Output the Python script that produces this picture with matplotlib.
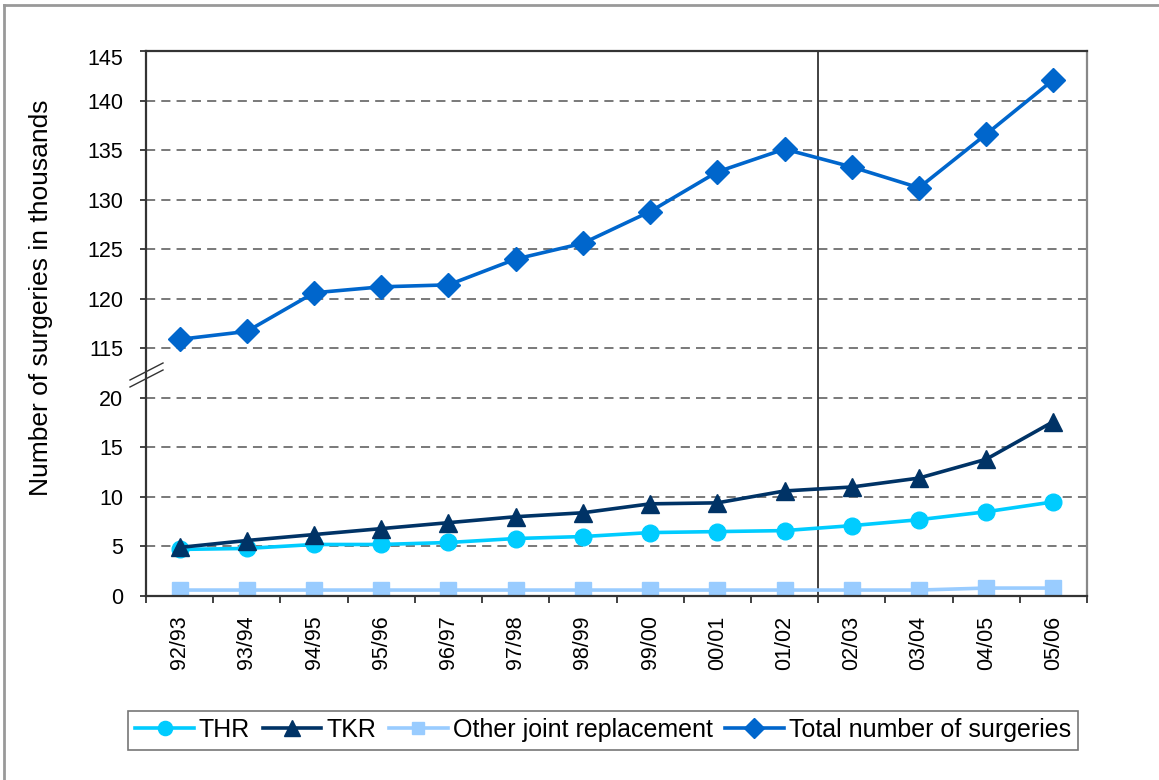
import numpy as np
import matplotlib
matplotlib.use("Agg")
import matplotlib.pyplot as plt
from matplotlib.lines import Line2D

plt.rcParams['font.family'] = ['Liberation Sans', 'DejaVu Sans']

# data (thousands of surgeries)
years = ["92/93", "93/94", "94/95", "95/96", "96/97", "97/98", "98/99",
         "99/00", "00/01", "01/02", "02/03", "03/04", "04/05", "05/06"]
thr = [4.7, 4.8, 5.2, 5.2, 5.4, 5.8, 6.0, 6.4, 6.5, 6.6, 7.1, 7.7, 8.5, 9.5]
tkr = [4.9, 5.6, 6.2, 6.8, 7.4, 8.0, 8.4, 9.3, 9.4, 10.6, 11.0, 11.9, 13.8, 17.6]
other = [0.6, 0.6, 0.6, 0.6, 0.6, 0.6, 0.6, 0.6, 0.6, 0.6, 0.6, 0.6, 0.8, 0.8]
total = [115.9, 116.7, 120.6, 121.2, 121.4, 124.0, 125.6, 128.8, 132.8, 135.1,
         133.3, 131.2, 136.6, 142.1]

# broken axis: 20 -> 115 collapsed into one tick step
BREAK = 90
low_ticks = [0, 5, 10, 15, 20]
high_ticks = [115, 120, 125, 130, 135, 140, 145]

fig = plt.figure(figsize=(11.59, 7.8), dpi=100)
ax = fig.add_axes([146/1159, 1-596/780, (1087-146)/1159, (596-51)/780])

x = np.arange(len(years))
ax.plot(x, thr, color='#00CCFF', lw=2.6, marker='o', ms=12, label='THR')
ax.plot(x, tkr, color='#003366', lw=2.6, marker='^', ms=13.5, label='TKR')
ax.plot(x, other, color='#99CCFF', lw=2.6, marker='s', ms=11, label='Other joint replacement')
ax.plot(x, np.array(total) - BREAK, color='#0066CC', lw=2.6, marker='D', ms=12,
        label='Total number of surgeries')

ax.set_xlim(-0.5, len(years) - 0.5)
ax.set_ylim(0, 145 - BREAK)

yt = low_ticks + [t - BREAK for t in high_ticks]
labels = [str(t) for t in low_ticks + high_ticks]
ax.set_yticks(yt)
# the top label sits a little below its tick, as Excel draws it
ax.set_yticklabels(labels[:-1] + [''], fontsize=15.5)
ax.annotate(labels[-1], xy=(0, yt[-1]), xycoords=('axes fraction', 'data'),
            xytext=(-16.5, -5.8), textcoords='offset points',
            ha='right', va='center', fontsize=15.5)
for t in yt[1:-1]:
    ax.axhline(t, color='#555555', lw=1.1, ls=(0, (6, 4)), zorder=0)

ax.set_xticks(x)
ax.set_xticklabels(years, rotation=90, fontsize=15.5)
ax.set_xticks(np.arange(len(years) + 1) - 0.5, minor=True)
ax.tick_params(axis='x', which='major', length=0, pad=14)
ax.tick_params(axis='x', which='minor', length=5, width=1.3, color='#333333')
ax.tick_params(axis='y', length=4.5, width=1.3, color='#333333', pad=12)

for s in ['left', 'bottom', 'top']:
    ax.spines[s].set_color('#333333')
    ax.spines[s].set_linewidth(1.6)
ax.spines['right'].set_color('#888888')
ax.spines['right'].set_linewidth(1.6)

# divider between 01/02 and 02/03
ax.axvline(9.5, color='#333333', lw=1.3, zorder=1)

ax.set_ylabel('Number of surgeries in thousands', fontsize=19)
ax.yaxis.set_label_coords(-0.099, 0.547)

# break marks on the y axis
for dy in (0, 7):
    fig.add_artist(Line2D([130/1159, 163/1159],
                          [1-(380+dy)/780, 1-(363+dy)/780],
                          color='#333333', lw=1))

# outer frame (top and left)
fig.add_artist(Line2D([4/1159, 1], [1-5/780, 1-5/780], color='#999999', lw=2))
fig.add_artist(Line2D([4/1159, 4/1159], [0, 1-5/780], color='#999999', lw=2))

leg = fig.legend(loc='center', bbox_to_anchor=(603/1159, 1-730/780), ncol=4,
                 fontsize=18, frameon=True, fancybox=False, edgecolor='#555555',
                 handlelength=2.35, handletextpad=0.2, columnspacing=0.5,
                 borderpad=0.3, borderaxespad=0, markerscale=0.85)
leg.get_frame().set_linewidth(1.2)

fig.savefig('out.png', dpi=100)
